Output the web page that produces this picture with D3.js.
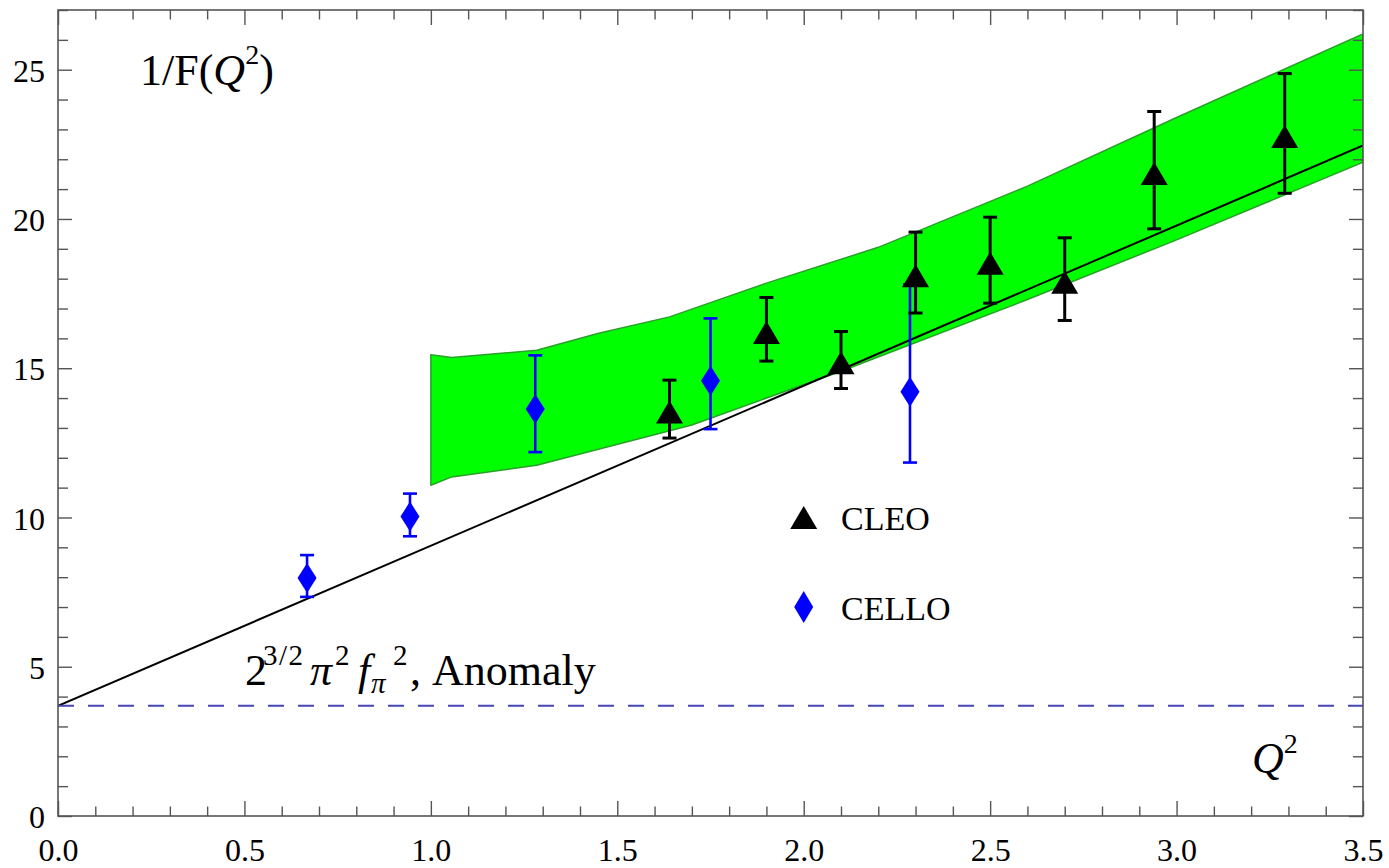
<!DOCTYPE html>
<html>
<head>
<meta charset="utf-8">
<script src="https://cdn.jsdelivr.net/npm/d3@7"></script>
<style>
  body { margin: 0; background: #fff; }
  svg { display: block; }
  text { font-family: "Liberation Serif", "Times New Roman", serif; fill: #000; }
</style>
</head>
<body>
<svg id="chart" width="1389" height="868"></svg>
<script>
// Axis ticks
const xMajorTicks = [0, 0.5, 1.0, 1.5, 2.0, 2.5, 3.0, 3.5];
const yMajorTicks = [0, 5, 10, 15, 20, 25];

// CLEO measurements: Q^2, value, lower and upper end of the error bar
const cleoQ2  = [1.64, 1.90, 2.10, 2.30, 2.50, 2.70, 2.94, 3.29];
const cleoVal = [13.63, 16.30, 15.28, 18.20, 18.62, 17.98, 21.62, 22.86];
const cleoLo  = [12.66, 15.24, 14.32, 16.85, 17.18, 16.60, 19.67, 20.86];
const cleoHi  = [14.60, 17.37, 16.23, 19.56, 20.06, 19.37, 23.60, 24.87];

// CELLO measurements
const celloQ2  = [0.668, 0.944, 1.28, 1.75, 2.285];
const celloVal = [7.97, 10.03, 13.63, 14.58, 14.21];
const celloLo  = [7.34, 9.37, 12.19, 12.96, 11.84];
const celloHi  = [8.74, 10.80, 15.43, 16.67, 17.80];

// Theory band: upper and lower edges
const bandUpperQ2 = [1.0, 1.056, 1.284, 1.45, 1.64, 1.9, 2.2, 2.6, 3.0, 3.5];
const bandUpper   = [15.45, 15.36, 15.60, 16.17, 16.72, 17.85, 19.05, 21.10, 23.40, 26.20];
const bandLowerQ2 = [1.0, 1.056, 1.284, 1.7, 2.1, 2.6, 3.0, 3.5];
const bandLower   = [11.08, 11.36, 11.75, 13.10, 14.90, 17.30, 19.30, 21.90];

// Straight-line fit and the anomaly value
const fitQ2  = [0, 3.5];
const fitVal = [3.69, 22.46];
const anomalyValue = 3.69;

const serif = '"Liberation Serif", "Times New Roman", serif';
const svg = d3.select("#chart");
const L = 58, R = 1363, T = 10, B = 816;
const x = d3.scaleLinear().domain([0, 3.5]).range([L, R]);
const y = d3.scaleLinear().domain([0, 27]).range([B, T]);

svg.append("defs").append("clipPath").attr("id", "plotClip")
  .append("rect").attr("x", L).attr("y", T).attr("width", R - L).attr("height", B - T);

const plot = svg.append("g").attr("clip-path", "url(#plotClip)");

// Band polygon: upper edge left to right, lower edge right to left
const bandPts = bandUpperQ2.map((q, i) => [q, bandUpper[i]])
  .concat(bandLowerQ2.map((q, i) => [q, bandLower[i]]).reverse());
plot.append("path")
  .attr("d", d3.line().x(d => x(d[0])).y(d => y(d[1]))(bandPts) + "Z")
  .attr("fill", "#00ff00")
  .attr("stroke", "#2aa02a")
  .attr("stroke-width", 1.5)
  .attr("stroke-linejoin", "round");

// Linear fit
plot.append("path")
  .attr("d", d3.line().x(d => x(d[0])).y(d => y(d[1]))(fitQ2.map((q, i) => [q, fitVal[i]])))
  .attr("fill", "none").attr("stroke", "#000").attr("stroke-width", 2);

// Anomaly level
plot.append("line")
  .attr("x1", x(0)).attr("x2", x(3.5))
  .attr("y1", y(anomalyValue)).attr("y2", y(anomalyValue))
  .attr("stroke", "#4646b4").attr("stroke-width", 2)
  .attr("stroke-dasharray", "16,14");

// Markers
const triPath = "M0,-8.5L13.5,14.5L-13.5,14.5Z";
const diaPath = "M0,-15L9.5,0L0,15L-9.5,0Z";

function errorBars(g, qs, lo, hi, color, w) {
  qs.forEach((q, i) => {
    const gx = x(q);
    g.append("line").attr("x1", gx).attr("x2", gx)
      .attr("y1", y(lo[i])).attr("y2", y(hi[i]))
      .attr("stroke", color).attr("stroke-width", w);
    [lo[i], hi[i]].forEach(v => {
      g.append("line").attr("x1", gx - 7).attr("x2", gx + 7)
        .attr("y1", y(v)).attr("y2", y(v))
        .attr("stroke", color).attr("stroke-width", w);
    });
  });
}

const pts = svg.append("g");
errorBars(pts, celloQ2, celloLo, celloHi, "#0000ff", 2.6);
pts.selectAll(".cello").data(celloQ2).join("path")
  .attr("d", diaPath).attr("fill", "#0000ff")
  .attr("transform", (q, i) => `translate(${x(q)},${y(celloVal[i])})`);

errorBars(pts, cleoQ2, cleoLo, cleoHi, "#000", 3);
pts.selectAll(".cleo").data(cleoQ2).join("path")
  .attr("d", triPath).attr("fill", "#000")
  .attr("transform", (q, i) => `translate(${x(q)},${y(cleoVal[i])})`);

// Axes with inward ticks on all four sides
function minorValues(step, max) {
  const out = [];
  for (let i = 0; i * step <= max + 1e-9; i++) out.push(+(i * step).toFixed(3));
  return out;
}
const xMinor = minorValues(0.1, 3.5).filter(v => !xMajorTicks.some(m => Math.abs(m - v) < 1e-6));
const yMinor = minorValues(1, 27).filter(v => !yMajorTicks.includes(v));

const axisColor = "#555";
function styleAxis(g) {
  g.select(".domain").remove();
  g.attr("font-family", null).attr("font-size", null);
  g.selectAll("line").attr("stroke", axisColor).attr("stroke-width", 1.4);
  g.selectAll("text").style("font-family", serif).style("font-size", "32px").attr("fill", "#000");
}

// bottom
svg.append("g").attr("transform", `translate(0,${B})`)
  .call(d3.axisBottom(x).tickValues(xMajorTicks).tickSizeInner(-15).tickSizeOuter(0)
    .tickPadding(22).tickFormat(d3.format(".1f")))
  .call(styleAxis);
svg.append("g").attr("transform", `translate(0,${B})`)
  .call(d3.axisBottom(x).tickValues(xMinor).tickSizeInner(-9.5).tickSizeOuter(0).tickFormat(""))
  .call(styleAxis);
// top
svg.append("g").attr("transform", `translate(0,${T})`)
  .call(d3.axisTop(x).tickValues(xMajorTicks).tickSizeInner(-15).tickSizeOuter(0).tickFormat(""))
  .call(styleAxis);
svg.append("g").attr("transform", `translate(0,${T})`)
  .call(d3.axisTop(x).tickValues(xMinor).tickSizeInner(-9.5).tickSizeOuter(0).tickFormat(""))
  .call(styleAxis);
// left
svg.append("g").attr("transform", `translate(${L},0)`)
  .call(d3.axisLeft(y).tickValues(yMajorTicks).tickSizeInner(-14).tickSizeOuter(0)
    .tickPadding(13).tickFormat(d3.format("d")))
  .call(styleAxis)
  .call(g => g.selectAll("text").attr("dy", "0.36em"));
svg.append("g").attr("transform", `translate(${L},0)`)
  .call(d3.axisLeft(y).tickValues(yMinor).tickSizeInner(-10).tickSizeOuter(0).tickFormat(""))
  .call(styleAxis);
// right
svg.append("g").attr("transform", `translate(${R},0)`)
  .call(d3.axisRight(y).tickValues(yMajorTicks).tickSizeInner(-14).tickSizeOuter(0).tickFormat(""))
  .call(styleAxis);
svg.append("g").attr("transform", `translate(${R},0)`)
  .call(d3.axisRight(y).tickValues(yMinor).tickSizeInner(-10).tickSizeOuter(0).tickFormat(""))
  .call(styleAxis);

// Frame
svg.append("rect").attr("x", L).attr("y", T).attr("width", R - L).attr("height", B - T)
  .attr("fill", "none").attr("stroke", axisColor).attr("stroke-width", 1.6);

// Titles
const title = svg.append("text").attr("x", 140).attr("y", 85).attr("font-size", 44);
title.append("tspan").text("1/F(");
title.append("tspan").attr("font-style", "italic").text("Q");
title.append("tspan").attr("font-size", 28).attr("dy", -21).text("2");
title.append("tspan").attr("dy", 21).text(")");

const xlab = svg.append("text").attr("x", 1252).attr("y", 773).attr("font-size", 44);
xlab.append("tspan").attr("font-style", "italic").text("Q");
xlab.append("tspan").attr("font-size", 28).attr("dy", -20).text("2");

const anom = svg.append("text").attr("y", 685).attr("font-size", 44);
anom.append("tspan").attr("x", 245).text("2");
anom.append("tspan").attr("x", 263).attr("dy", -20).attr("font-size", 29).attr("letter-spacing", 1.5).text("3/2");
anom.append("tspan").attr("x", 310).attr("dy", 20).attr("font-style", "italic").text("π");
anom.append("tspan").attr("x", 335).attr("dy", -20).attr("font-size", 29).text("2");
anom.append("tspan").attr("x", 358).attr("dy", 20).attr("font-style", "italic").text("f");
anom.append("tspan").attr("x", 371).attr("dy", 8).attr("font-size", 29).attr("font-style", "italic").text("π");
anom.append("tspan").attr("x", 393).attr("dy", -28).attr("font-size", 29).text("2");
anom.append("tspan").attr("x", 410).attr("dy", 20).text(", Anomaly");

// Legend
const leg = svg.append("g");
leg.append("path").attr("d", "M0,-11.5L13.5,11.5L-13.5,11.5Z").attr("fill", "#000")
  .attr("transform", `translate(${x(2.0)},${y(10)})`);
leg.append("text").attr("x", x(2.1)).attr("y", y(10) + 12.5).attr("font-size", 34).text("CLEO");
leg.append("path").attr("d", "M0,-16L9.5,0L0,16L-9.5,0Z").attr("fill", "#0000ff")
  .attr("transform", `translate(${x(2.0)},${y(7)})`);
leg.append("text").attr("x", x(2.1)).attr("y", y(7) + 13).attr("font-size", 34).text("CELLO");
</script>
</body>
</html>
